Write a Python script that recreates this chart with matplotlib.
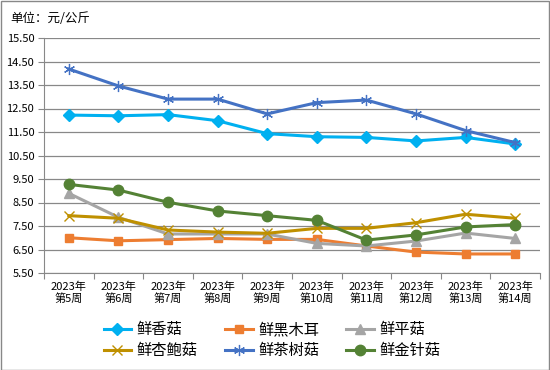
import numpy as np
import matplotlib
matplotlib.use('Agg')
from matplotlib import pyplot as plt

plt.rcParams['font.family'] = ['Noto Sans CJK SC', 'DejaVu Sans']

weeks = [f'2023年\n第{i}周' for i in range(5, 15)]

xianggu = [12.22, 12.19, 12.24, 11.98, 11.43, 11.30, 11.27, 11.12, 11.27, 10.99]
heimuer = [7.00, 6.87, 6.92, 6.97, 6.93, 6.93, 6.65, 6.39, 6.31, 6.31]
pinggu = [8.89, 7.87, 7.16, 7.16, 7.16, 6.76, 6.65, 6.86, 7.20, 6.97]
xingbaogu = [7.94, 7.83, 7.33, 7.24, 7.19, 7.40, 7.40, 7.64, 8.00, 7.83]
chashugu = [14.18, 13.46, 12.90, 12.90, 12.27, 12.75, 12.86, 12.27, 11.56, 11.05]
jinzhengu = [9.27, 9.03, 8.51, 8.14, 7.94, 7.74, 6.90, 7.12, 7.46, 7.56]

series = [
    ('鲜香菇', xianggu, '#00B0F0', 'D', 6, 1.0),
    ('鲜黑木耳', heimuer, '#ED7D31', 's', 6, 1.0),
    ('鲜平菇', pinggu, '#A5A5A5', '^', 7, 1.0),
    ('鲜杏鲍菇', xingbaogu, '#BF9000', 'x', 7, 1.0),
    ('鲜茶树菇', chashugu, '#4472C4', (6, 2, 0), 8, 0.9),
    ('鲜金针菇', jinzhengu, '#548235', 'o', 7.5, 1.0),
]

fig = plt.figure(figsize=(5.5, 3.7), dpi=100)
ax = fig.add_axes([44 / 550, 1 - 273 / 370, 496 / 550, 235 / 370])

x = np.arange(len(weeks))
handles = []
for name, vals, color, marker, ms, mew in series:
    h, = ax.plot(x, vals, color=color, lw=2.2, marker=marker, ms=ms,
                 mec=color, mfc=color, mew=mew, label=name)
    handles.append(h)

ax.set_ylim(5.5, 15.5)
ax.set_yticks(np.arange(5.5, 15.6, 1.0))
ax.set_yticklabels([f'{v:.2f}' for v in np.arange(5.5, 15.6, 1.0)], fontsize=8)
ax.set_xlim(-0.5, len(weeks) - 0.5)
ax.set_xticks(np.arange(-0.5, len(weeks)), minor=False)
ax.set_xticklabels([])
ax.set_xticks(x, minor=True)
ax.set_xticklabels(weeks, minor=True, fontsize=8, linespacing=1.2)
ax.tick_params(axis='x', which='minor', length=0, pad=6)
ax.tick_params(axis='x', which='major', length=4, color='#888888')
ax.tick_params(axis='y', length=4, color='#888888', pad=3)

ax.grid(axis='y', color='#888888', lw=0.9)
ax.set_axisbelow(True)
for s in ['top', 'right']:
    ax.spines[s].set_visible(False)
ax.spines['left'].set_color('#888888')
ax.spines['bottom'].set_color('#888888')

fig.text(10 / 550, 1 - 18 / 370, '单位：元/公斤', fontsize=9, va='center')

# row-wise order for a 3-column legend
order = [0, 3, 1, 4, 2, 5]
fig.legend([handles[i] for i in order], [series[i][0] for i in order],
           loc='center', bbox_to_anchor=(272 / 550, 1 - 340 / 370), ncol=3,
           frameon=False, fontsize=11, handlelength=1.8, columnspacing=1.8,
           labelspacing=0.25, handletextpad=0.35)

fig.patches.append(plt.Rectangle((0.001, 0.001), 0.997, 0.997, transform=fig.transFigure,
                                 fill=False, edgecolor='#888888', lw=1))

fig.savefig('out.png', dpi=100)
